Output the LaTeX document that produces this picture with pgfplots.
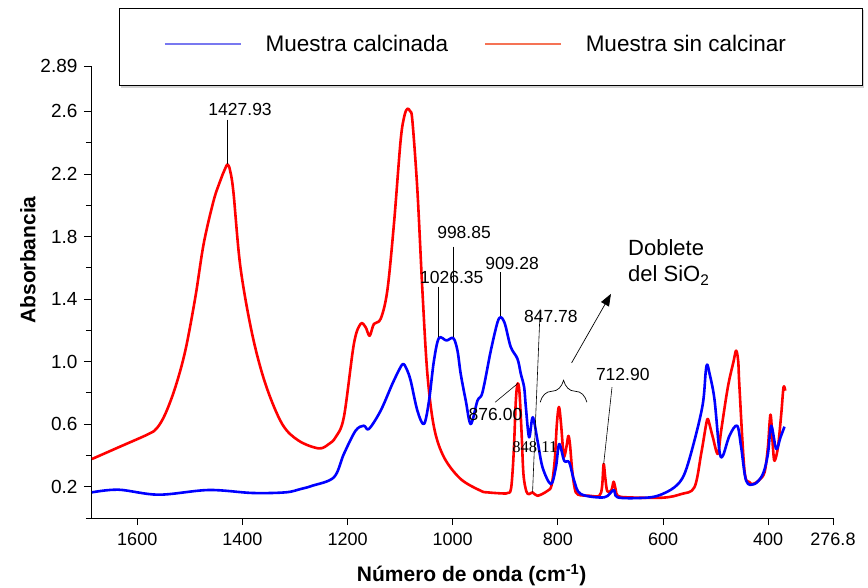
\documentclass[border=0pt]{standalone}
\usepackage{fontspec}
\setmainfont{Liberation Sans}
\newfontfamily\seriffont{Liberation Serif}
\usepackage{pgfplots}
\pgfplotsset{compat=1.18}
\usetikzlibrary{calc,shadows,decorations.pathreplacing,arrows.meta}
\definecolor{legblue}{RGB}{120,120,240}
\definecolor{legred}{RGB}{245,115,85}
\tikzset{
  lead/.style={draw=black, line width=0.6pt},
  ann/.style={font=\fontsize{17.5}{20}\selectfont, inner sep=0pt}
}

\pgfplotstableread{
w A
1686.3 0.377
1635.6 0.452
1578.5 0.537
1562.5 0.575
1546.7 0.665
1527.6 0.836
1508.6 1.070
1489.5 1.412
1473.7 1.753
1454.7 2.030
1441.9 2.158
1434.0 2.225
1428.0 2.261
1423.0 2.215
1417.0 2.080
1403.8 1.604
1381.5 1.177
1356.2 0.857
1324.4 0.601
1292.8 0.494
1254.7 0.445
1235.6 0.473
1222.9 0.516
1207.1 0.644
1188.0 1.113
1175.2 1.241
1165.7 1.220
1158.1 1.165
1149.9 1.241
1137.1 1.273
1124.4 1.454
1111.8 1.881
1099.1 2.414
1092.0 2.570
1086.3 2.617
1081.0 2.600
1076.8 2.542
1067.2 2.094
1057.7 1.454
1048.2 0.921
1035.6 0.580
1016.6 0.388
984.8 0.249
946.7 0.174
933.9 0.164
905.0 0.157
895.8 0.160
889.0 0.190
884.0 0.420
880.0 0.750
876.5 0.860
873.0 0.800
869.0 0.540
865.5 0.280
860.0 0.170
854.7 0.153
848.1 0.164
838.7 0.142
819.6 0.174
812.0 0.210
806.0 0.370
802.0 0.600
798.0 0.710
794.0 0.600
789.5 0.410
787.0 0.400
783.0 0.470
780.0 0.525
777.0 0.470
773.0 0.310
768.0 0.190
762.0 0.150
740.0 0.142
721.3 0.142
716.0 0.200
713.0 0.345
710.0 0.260
706.0 0.170
698.0 0.180
694.0 0.232
690.0 0.180
686.3 0.142
667.2 0.132
600.0 0.130
565.7 0.153
540.4 0.196
527.6 0.409
518.0 0.600
514.9 0.633
511.0 0.590
505.3 0.516
495.8 0.409
489.5 0.558
476.8 0.836
466.0 1.000
461.0 1.070
457.0 1.000
454.7 0.836
445.1 0.302
436.0 0.230
429.1 0.217
418.0 0.240
407.0 0.292
400.6 0.452
395.6 0.661
391.0 0.450
388.0 0.366
381.5 0.452
375.2 0.665
370.9 0.836
367.6 0.814
}\sincalcinar

\pgfplotstableread{
w A
1686.3 0.164
1635.6 0.181
1559.4 0.149
1464.2 0.179
1381.5 0.160
1318.1 0.164
1289.5 0.185
1267.3 0.206
1226.1 0.260
1207.1 0.409
1184.8 0.558
1169.0 0.590
1159.5 0.569
1137.1 0.686
1114.9 0.857
1100.0 0.960
1093.9 0.985
1088.0 0.955
1080.0 0.878
1067.2 0.686
1054.7 0.601
1045.1 0.750
1036.0 1.000
1026.4 1.150
1012.0 1.135
998.9 1.150
991.0 1.070
984.8 0.921
975.2 0.750
965.7 0.601
953.0 0.750
943.4 0.804
927.6 1.070
915.0 1.250
908.6 1.284
903.0 1.260
899.0 1.220
889.5 1.092
876.8 1.017
870.5 0.921
864.2 0.836
860.9 0.708
854.7 0.516
847.8 0.644
838.7 0.494
829.2 0.324
813.3 0.217
803.8 0.324
797.5 0.473
788.0 0.366
778.5 0.356
769.0 0.238
756.2 0.153
711.8 0.132
693.9 0.179
686.3 0.132
641.9 0.128
610.1 0.142
578.5 0.196
559.4 0.281
540.4 0.494
524.4 0.729
519.0 0.930
516.2 0.981
512.0 0.930
502.3 0.761
492.8 0.430
486.3 0.398
473.7 0.526
459.0 0.590
451.4 0.452
441.9 0.238
426.1 0.217
410.1 0.281
400.6 0.409
394.3 0.590
384.8 0.441
376.6 0.516
369.0 0.584
}\calcinada

\begin{document}
\begin{tikzpicture}
\begin{axis}[
  width=742pt, height=452pt, scale only axis,
  x dir=reverse,
  xmin=276.8, xmax=1688, ymin=0, ymax=2.89,
  axis lines=left, axis line style={-, black, line width=0.8pt},
  xtick={1600,1400,1200,1000,800,600,400,276.8},
  xticklabels={1600,1400,1200,1000,800,600,400,276.8},
  ytick={0.2,0.6,1.0,1.4,1.8,2.2,2.6,2.89},
  yticklabels={0.2,0.6,1.0,1.4,1.8,2.2,2.6,2.89},
  minor ytick={0,0.4,0.8,1.2,1.6,2.0,2.4},
  tick align=outside, major tick length=7pt, minor tick length=5pt,
  tick style={black, line width=0.8pt},
  xticklabel style={font=\fontsize{18}{20}\selectfont, yshift=-4pt},
  yticklabel style={font=\fontsize{19}{21}\selectfont, xshift=-3pt},
  xlabel={\textbf{Número de onda (cm\textsuperscript{-1})}},
  ylabel={\textbf{Absorbancia}},
  xlabel style={font=\fontsize{21}{24}\selectfont, at={(axis description cs:0.513,-0.126)}, anchor=center},
  ylabel style={font=\fontsize{21}{24}\selectfont, at={(axis description cs:-0.085,0.571)}, anchor=center},
  clip=false,
  legend columns=2,
  legend image code/.code={\draw[#1] (0pt,0pt) -- (76pt,0pt);},
  legend style={
    at={(rel axis cs:0.0377,1.128)}, anchor=north west,
    draw=none, fill=none,
    inner xsep=45pt, inner ysep=27pt,
    font=\fontsize{22.5}{26}\selectfont,
    nodes={inner xsep=0pt, inner ysep=0pt},
    /tikz/every odd column/.append style={column sep=24pt},
    /tikz/every even column/.append style={column sep=36pt}
  },
  legend cell align=left
]
\addlegendimage{legblue, line width=1.5pt}
\addlegendentry{Muestra calcinada}
\addlegendimage{legred, line width=1.5pt}
\addlegendentry{Muestra sin calcinar}

\addplot[red, line width=2.6pt, smooth, tension=0.55, line join=round, forget plot] table[x=w, y=A] {\sincalcinar};
\addplot[blue, line width=2.6pt, smooth, tension=0.55, line join=round, forget plot] table[x=w, y=A] {\calcinada};

% legend frame with shadow
\draw[black, line width=0.8pt, fill=white,
  drop shadow={shadow xshift=2pt, shadow yshift=-2pt, fill=gray!70}]
  (rel axis cs:0.0377,1.128) rectangle (rel axis cs:1.039,0.956);

% leader lines and peak labels
\draw[lead] (axis cs:1428.6,2.547) -- (axis cs:1428.6,2.265);
\node[ann] at (axis cs:1404.4,2.611) {1427.93};
\draw[lead] (axis cs:999.4,1.735) -- (axis cs:999.4,1.16);
\node[ann] at (axis cs:978.5,1.824) {998.85};
\draw[lead] (axis cs:1027.2,1.48) -- (axis cs:1027.2,1.16);
\node[ann] at (axis cs:1001.9,1.536) {1026.35};
\draw[lead] (axis cs:909.9,1.572) -- (axis cs:909.9,1.29);
\node[ann] at (axis cs:887.2,1.625) {909.28};
\draw[lead] (axis cs:833.7,1.337) -- (axis cs:848.2,0.164);
\node[ann] at (axis cs:813.3,1.288) {847.78};
\node[inner sep=0pt, font=\seriffont\fontsize{16.5}{18}\selectfont] at (axis cs:843.8,0.452) {848.11};
\draw[lead] (axis cs:919.4,0.74) -- (axis cs:875.6,0.862);
\node[ann] at (axis cs:918.7,0.665) {876.00};
\draw[lead] (axis cs:697.1,0.836) -- (axis cs:712.9,0.346);
\node[ann] at (axis cs:676.6,0.915) {712.90};

% doublet brace and arrow
\draw[black, line width=0.7pt, decorate, decoration={brace, amplitude=22pt}]
  (axis cs:833.7,0.740) -- (axis cs:744.8,0.740);
\draw[black, line width=0.7pt, -{Triangle[length=12pt, width=9pt]}]
  (axis cs:773.9,0.992) -- (axis cs:699.1,1.433);
\node[anchor=west, align=left, inner sep=0pt, font=\fontsize{22}{26}\selectfont]
  at (axis cs:666.7,1.633) {Doblete\\del SiO\textsubscript{2}};
\end{axis}
\pgfresetboundingbox
\path[use as bounding box] ($(current axis.south west)+(-91pt,-69pt)$) rectangle ($(current axis.north east)+(35pt,66pt)$);
\end{tikzpicture}
\end{document}
